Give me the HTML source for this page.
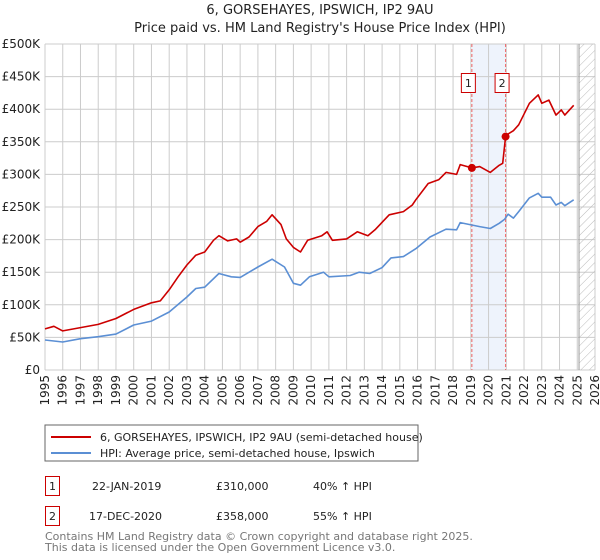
<!DOCTYPE html>
<html><head><meta charset="utf-8"><style>
body{margin:0;background:#fff;font-family:"DejaVu Sans","Liberation Sans",sans-serif;}
</style></head><body>
<svg id="c" width="600" height="560" xmlns="http://www.w3.org/2000/svg" style="display:block">
<defs><pattern id="hatch" width="6" height="6" patternUnits="userSpaceOnUse" patternTransform="rotate(45)"><line x1="0" y1="0" x2="0" y2="6" stroke="#bbb" stroke-width="1"/></pattern></defs>
<text x="320" y="14" text-anchor="middle" font-size="13" fill="#222">6, GORSEHAYES, IPSWICH, IP2 9AU</text>
<text x="320" y="32" text-anchor="middle" font-size="13" fill="#222">Price paid vs. HM Land Registry's House Price Index (HPI)</text>
<g id="grid"></g><g id="series"></g><g id="axes"></g>
<rect x="45" y="425" width="373" height="36" fill="#fff" stroke="#666"/>
<line x1="51" y1="437" x2="91" y2="437" stroke="#cc0000" stroke-width="2"/>
<text x="100" y="441" font-size="11" fill="#222">6, GORSEHAYES, IPSWICH, IP2 9AU (semi-detached house)</text>
<line x1="51" y1="453" x2="91" y2="453" stroke="#5b8fd4" stroke-width="2"/>
<text x="100" y="457" font-size="11" fill="#222">HPI: Average price, semi-detached house, Ipswich</text>
<g font-size="11" fill="#222">
<rect x="45.5" y="476.5" width="14" height="19" fill="#fff" stroke="#cc0000"/>
<text x="52.5" y="490" text-anchor="middle">1</text>
<text x="92" y="490">22-JAN-2019</text><text x="216" y="490">£310,000</text><text x="313" y="490">40% ↑ HPI</text></g>
<g font-size="11" fill="#222">
<rect x="45.5" y="506.5" width="14" height="19" fill="#fff" stroke="#cc0000"/>
<text x="52.5" y="520" text-anchor="middle">2</text>
<text x="89" y="520">17-DEC-2020</text><text x="216" y="520">£358,000</text><text x="313" y="520">55% ↑ HPI</text></g>
<text x="45" y="540" font-size="11" fill="#777">Contains HM Land Registry data © Crown copyright and database right 2025.</text>
<text x="45" y="551" font-size="11" fill="#777">This data is licensed under the Open Government Licence v3.0.</text>
</svg>
<script>
const yTicks=[0,50,100,150,200,250,300,350,400,450,500];
const yearTicks=[1995,1996,1997,1998,1999,2000,2001,2002,2003,2004,2005,2006,2007,2008,2009,2010,2011,2012,2013,2014,2015,2016,2017,2018,2019,2020,2021,2022,2023,2024,2025,2026];
const hpiYears=[1995,1996,1997,1998,1999,2000,2001,2002,2003,2003.5,2004,2004.8,2005.5,2006,2007,2007.8,2008.5,2009,2009.4,2009.9,2010.7,2011,2012.2,2012.7,2013.3,2014,2014.5,2015.2,2015.9,2016.7,2017.6,2018.2,2018.4,2019.5,2020.1,2020.6,2020.9,2021.1,2021.4,2021.7,2022.3,2022.8,2023,2023.5,2023.8,2024.1,2024.3,2024.8];
const hpiValues=[46,43,48,51,55,69,75,89,112,125,127,148,143,142,158,170,158,133,130,143,150,143,145,150,148,157,172,174,186,204,216,215,226,220,217,225,231,239,233,243,264,271,265,265,253,257,252,261];
const propYears=[1995,1995.5,1996,1997,1998,1999,2000,2001,2001.5,2002,2002.5,2003,2003.5,2004,2004.5,2004.8,2005.3,2005.8,2006,2006.5,2007,2007.5,2007.8,2008.3,2008.6,2009,2009.4,2009.8,2010.6,2010.9,2011.2,2012,2012.6,2013.2,2013.6,2014.4,2015.2,2015.7,2015.9,2016.6,2017.2,2017.6,2018.2,2018.4,2019.06,2019.5,2020.1,2020.6,2020.8,2020.96,2021.1,2021.4,2021.7,2022.3,2022.8,2023,2023.4,2023.8,2024.1,2024.3,2024.8];
const propValues=[63,67,60,65,70,79,93,103,106,123,143,161,176,181,199,206,198,201,196,204,220,228,238,223,201,188,181,199,206,212,199,201,212,206,215,238,243,253,261,286,292,303,300,315,310,312,303,314,317,358,362,367,376,409,422,409,414,391,399,391,406];
const saleYears=[2019.06,2020.96];
const saleValues=[310,358];
const saleLabels=["1","2"];
const NS="http://www.w3.org/2000/svg";
const X0=45,X1=595,Y0=370,Y1=44;
function xs(y){return X0+(y-1995)/(2026-1995)*(X1-X0);}
function ys(v){return Y0-v/500*(Y0-Y1);}
function mk(tag,attrs,parent){const e=document.createElementNS(NS,tag);for(const k in attrs)e.setAttribute(k,attrs[k]);parent.appendChild(e);return e;}
const grid=document.getElementById('grid'),ser=document.getElementById('series'),ax=document.getElementById('axes');
let band=mk('rect',{x:xs(saleYears[0]),y:Y1,width:xs(saleYears[1])-xs(saleYears[0]),height:Y0-Y1,fill:'#eef3fc'},grid);


yearTicks.forEach(t=>{
 const l=mk('line',{x1:xs(t),x2:xs(t),y1:Y1,y2:Y0,stroke:'#ccc'},grid);
 
 
 const x=xs(t)+4;
 const tx=mk('text',{x:x,y:375,transform:`rotate(-90 ${x} 375)`,'text-anchor':'end','font-size':'12',fill:'#222'},ax);
 tx.textContent=t;
 
 
});
yTicks.forEach(t=>{
 const l=mk('line',{x1:X0,x2:X1,y1:ys(t),y2:ys(t),stroke:'#ccc'},grid);
 
 
 const tx=mk('text',{x:40,y:ys(t)+4,'text-anchor':'end','font-size':'12',fill:'#222'},ax);
 tx.textContent=t===0?'£0':'£'+t+'K';
 
 
});
const hx=xs(2025.1);
let h=mk('rect',{x:hx,y:Y1,width:X1-hx,height:Y0-Y1,fill:'url(#hatch)'},grid);


let hl=mk('line',{x1:hx,x2:hx,y1:Y1,y2:Y0,stroke:'#999'},grid);


saleYears.forEach((s,i)=>{
 const l=mk('line',{x1:xs(s),x2:xs(s),y1:Y1,y2:Y0,stroke:'#e66','stroke-dasharray':'3,2'},grid);
 
 
});
function path(xa,va,color,name){
 const d=xa.map((x,i)=>(i?'L':'M')+xs(x).toFixed(1)+','+ys(va[i]).toFixed(1)).join('');
 const p=mk('path',{d:d,fill:'none',stroke:color,'stroke-width':1.6,'stroke-linejoin':'round'},ser);
 
 
}
path(hpiYears,hpiValues,'#5b8fd4','hpi-line');
path(propYears,propValues,'#cc0000','property-price-line');
saleYears.forEach((s,i)=>{
 const c=mk('circle',{cx:xs(s),cy:ys(saleValues[i]),r:4,fill:'#cc0000'},ser);
 
 
 const cx=xs(s)-3.5;
 const r=mk('rect',{x:cx-7,y:73.5,width:14,height:19,fill:'#fff',stroke:'#cc0000'},ser);
 
 
 const t=mk('text',{x:cx,y:87,'text-anchor':'middle','font-size':'11',fill:'#222'},ser);
 t.textContent=saleLabels[i];
 
 
});
</script>
</body></html>
